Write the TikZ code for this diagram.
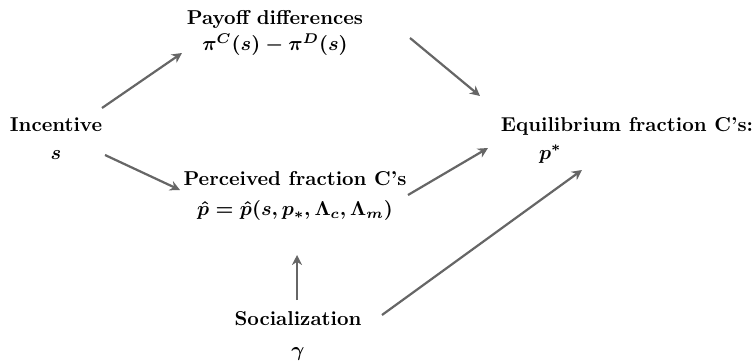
\documentclass[tikz,border=0pt]{standalone}
\usepackage{amsmath}
\usetikzlibrary{arrows.meta}
\tikzset{
  factor/.style={align=center, font=\bfseries\boldmath, inner sep=1pt},
  link/.style={draw=black!60, line width=1.1pt, -{Stealth[length=5pt,width=5pt]}}
}

\begin{document}
\begin{tikzpicture}[x=0.0175cm, y=-0.0175cm]
    \useasboundingbox (0,0) rectangle (752,362);

    \node[factor] (inc) at (56,139)  {Incentive\\[2pt] $s$};
    \node[factor] (pay) at (275,33)  {Payoff differences\\[1pt] $\pi^C(s)-\pi^D(s)$};
    \node[factor] (per) at (295,196) {Perceived fraction C's\\[3pt] $\hat{p}=\hat{p}(s,p_*,\Lambda_c,\Lambda_m)$};
    \node[factor, align=left] (equ) at (627,140) {Equilibrium fraction C's:\\[2pt] \hspace*{19pt}$p^*$};
    \node[factor] (soc) at (298,336) {Socialization\\[3pt] $\gamma$};

    % arrows float free of the boxes, so shift off the centres
    \draw[link] ([shift={(46,-31)}]inc.center) -- ([shift={(-93,20)}]pay.center);
    \draw[link] ([shift={(49,16)}]inc.center) -- ([shift={(-115,-6)}]per.center);
    \draw[link] ([shift={(135,5)}]pay.center) -- ([shift={(-147,-44)}]equ.center);
    \draw[link] ([shift={(113,-1)}]per.center) -- ([shift={(-139,8)}]equ.center);
    \draw[link] ([shift={(-1,-36)}]soc.center) -- ([shift={(2,59)}]per.center);
    \draw[link] ([shift={(84,-21)}]soc.center) -- ([shift={(-45,30)}]equ.center);
\end{tikzpicture}
\end{document}
